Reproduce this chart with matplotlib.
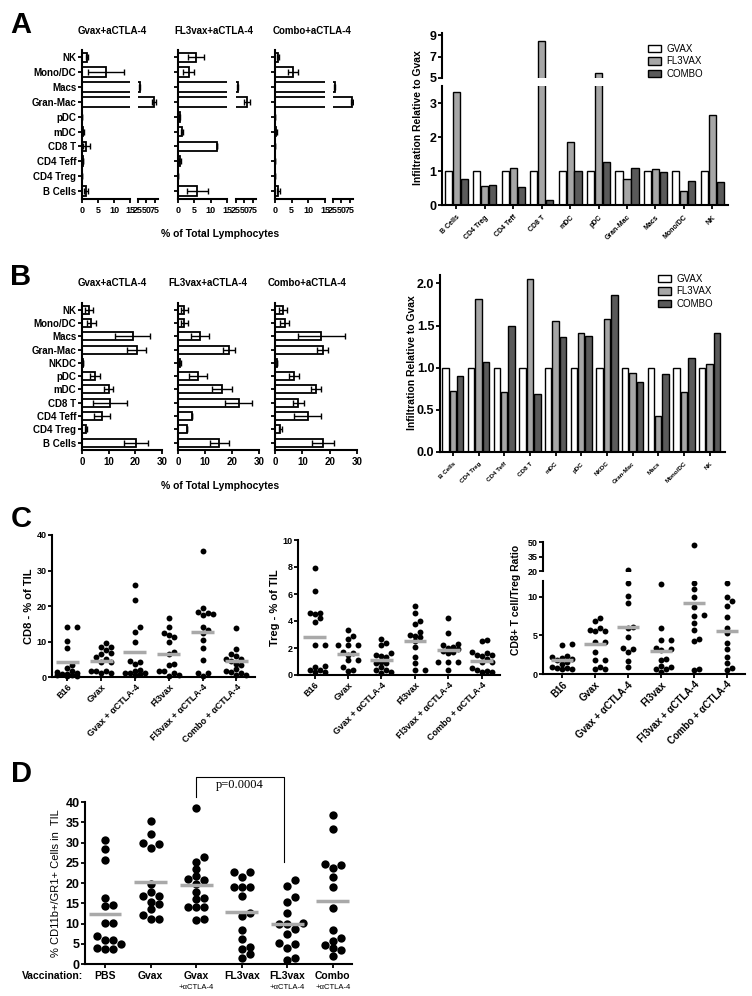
import numpy as np
import matplotlib.pyplot as plt
from matplotlib.patches import Patch

plt.rcParams['font.family'] = ['Liberation Sans', 'DejaVu Sans']
plt.rcParams['font.weight'] = 'bold'
plt.rcParams['axes.linewidth'] = 1.5
plt.rcParams['xtick.major.width'] = 1.3
plt.rcParams['ytick.major.width'] = 1.3
plt.rcParams['xtick.major.size'] = 3
plt.rcParams['ytick.major.size'] = 3

W, H = 752, 996

# ---------------- data ----------------
# panel A, left: % of total lymphocytes (mean, sem)
cats_a = ["NK", "Mono/DC", "Macs", "Gran-Mac", "pDC", "mDC", "CD8 T", "CD4 Teff", "CD4 Treg", "B Cells"]
gvax_a = [1.6, 7.5, 30, 73, 0.1, 0.4, 1.3, 0.3, 0.1, 1.2]
gvax_a_err = [0.3, 5.5, 1.5, 5, 0, 0.2, 1.1, 0.1, 0, 0.6]
fl3_a = [5.5, 3.3, 30, 58, 0.5, 1.2, 11.9, 0.5, 0.1, 5.9]
fl3_a_err = [2.5, 1.7, 2, 8, 0.2, 0.3, 0, 0.3, 0, 3.2]
combo_a = [1.0, 5.4, 30, 82, 0.1, 0.4, 0.1, 0.1, 0.1, 1.0]
combo_a_err = [0.3, 1.6, 1.5, 2, 0, 0.2, 0, 0, 0, 0.5]

# panel A, right: infiltration relative to gvax
cats_ar = ["B Cells", "CD4 Treg", "CD4 Teff", "CD8 T", "mDC", "pDC", "Gran-Mac", "Macs", "Mono/DC", "NK"]
ar_gvax = [1, 1, 1, 1, 1, 1, 1, 1, 1, 1]
ar_fl3 = [3.32, 0.55, 1.1, 8.45, 1.85, 5.45, 0.75, 1.07, 0.4, 2.65]
ar_combo = [0.75, 0.58, 0.53, 0.15, 1.0, 1.25, 1.1, 0.98, 0.72, 0.68]

# panel B, left
cats_b = ["NK", "Mono/DC", "Macs", "Gran-Mac", "NKDC", "pDC", "mDC", "CD8 T", "CD4 Teff", "CD4 Treg", "B Cells"]
gvax_b = [2.5, 3.5, 19, 20.5, 0.3, 4.8, 10, 10.5, 7.5, 1.5, 20.3]
gvax_b_err = [1.5, 1.8, 6.5, 3.5, 0.1, 1.8, 1.8, 6.5, 3, 0.5, 4.4]
fl3_b = [2.4, 2.4, 8.2, 18.8, 0.7, 7.5, 16.3, 22.5, 5, 3.2, 15.3]
fl3_b_err = [1.3, 1.3, 3.4, 2.2, 0.3, 3.3, 3.7, 5, 0, 0, 3.5]
combo_b = [3, 3.5, 17, 17.5, 0.8, 7, 15, 8.5, 12, 2, 17.5]
combo_b_err = [1.5, 1.5, 8.5, 2, 0, 1.7, 2, 2, 5, 0.5, 4]

# panel B, right
cats_br = ["B Cells", "CD4 Treg", "CD4 Teff", "CD8 T", "mDC", "pDC", "NKDC", "Gran-Mac", "Macs", "Mono/DC", "NK"]
br_gvax = [1, 1, 1, 1, 1, 1, 1, 1, 1, 1, 1]
br_fl3 = [0.72, 1.81, 0.71, 2.05, 1.55, 1.41, 1.58, 0.94, 0.43, 0.71, 1.04]
br_combo = [0.9, 1.07, 1.5, 0.69, 1.37, 1.38, 1.86, 0.83, 0.92, 1.11, 1.41]

# panel C
groups_c = ["B16", "Gvax", "Gvax + \u03b1CTLA-4", "Fl3vax", "Fl3vax + \u03b1CTLA-4", "Combo + \u03b1CTLA-4"]
cd8 = [
    [14.2, 14.2, 10.2, 8.3, 3.5, 2.5, 1.8, 1.2, 0.8, 0.6, 0.5, 0.4, 0.8, 1.5, 0.3],
    [9.7, 8.5, 8.5, 6.7, 7.6, 6.5, 5.7, 5.0, 4.3, 4.3, 1.8, 1.8, 1.8, 1.0, 1.0],
    [25.8, 21.8, 14.2, 12.8, 9.8, 4.6, 4.3, 3.8, 2.0, 1.6, 1.0, 1.0, 0.8, 0.5, 1.2],
    [16.5, 14.2, 12.3, 11.9, 11.3, 9.9, 7.1, 6.6, 3.8, 3.5, 1.6, 1.6, 1.1, 0.5, 0.3],
    [35.5, 19.3, 18.3, 18.1, 17.8, 17.6, 14.0, 13.2, 12.3, 10.5, 8.2, 4.8, 1.0, 0.3, 1.2],
    [13.7, 7.8, 6.4, 5.9, 5.2, 5.2, 4.6, 3.8, 3.5, 2.3, 1.8, 1.5, 1.0, 0.6, 0.6],
]
cd8_mean = [4.3, 4.5, 7.1, 6.6, 12.8, 4.5]
treg = [
    [7.9, 6.2, 4.6, 4.6, 4.5, 4.2, 3.95, 2.2, 2.2, 0.7, 0.6, 0.4, 0.35, 0.25, 0.2],
    [3.3, 2.9, 2.7, 2.2, 2.2, 2.2, 1.7, 1.6, 1.5, 1.1, 1.1, 0.6, 0.4, 0.3],
    [2.7, 2.4, 2.2, 1.6, 1.5, 1.4, 1.3, 1.0, 0.9, 0.9, 0.6, 0.4, 0.4, 0.2, 0.15],
    [5.1, 4.6, 4.0, 3.8, 3.2, 3.0, 2.9, 2.8, 2.5, 2.1, 1.3, 0.9, 0.4, 0.35],
    [4.2, 3.1, 2.3, 2.2, 2.1, 2.0, 1.9, 1.8, 1.7, 1.6, 1.0, 1.0, 1.0, 0.4],
    [2.6, 2.5, 1.7, 1.6, 1.5, 1.5, 1.4, 1.2, 1.0, 1.0, 0.5, 0.4, 0.3, 0.2, 0.2],
]
treg_mean = [2.85, 1.55, 1.1, 2.5, 1.85, 1.05]
ratio = [
    [3.9, 3.8, 2.3, 2.2, 2.1, 1.9, 1.8, 1.6, 1.3, 0.9, 0.8, 0.7, 0.8, 0.6],
    [7.2, 6.9, 5.9, 5.7, 5.6, 5.5, 4.1, 4.1, 2.9, 1.8, 1.8, 0.95, 0.7, 0.6],
    [21.5, 11.8, 10.1, 9.2, 6.1, 5.9, 4.8, 3.3, 3.2, 2.9, 1.7, 0.9],
    [11.6, 5.9, 4.4, 4.4, 3.3, 3.2, 3.1, 2.0, 1.8, 1.0, 0.9, 0.7, 0.6, 0.3],
    [47, 11.7, 11.0, 10.0, 8.6, 7.6, 7.5, 6.6, 5.7, 4.5, 4.3, 0.7, 0.5],
    [11.8, 10.0, 9.4, 8.8, 7.3, 6.0, 5.3, 4.0, 3.2, 2.2, 1.4, 0.8, 0.5],
]
ratio_mean = [1.75, 3.85, 6.1, 3.0, 9.2, 5.5]

# panel D
groups_d = ["PBS", "Gvax", "Gvax", "FL3vax", "FL3vax", "Combo"]
groups_d2 = ["", "", "+\u03b1CTLA-4", "", "+\u03b1CTLA-4", "+\u03b1CTLA-4"]
mdsc = [
    [30.6, 28.3, 25.8, 16.4, 14.6, 14.2, 10.2, 10.1, 7.0, 5.9, 5.9, 5.0, 3.9, 3.7, 3.7],
    [35.2, 32.0, 30.0, 29.7, 28.7, 19.7, 17.8, 16.9, 16.9, 15.3, 14.8, 13.5, 12.2, 11.1, 11.1],
    [38.5, 26.3, 25.2, 23.5, 21.8, 21.0, 20.7, 19.8, 17.9, 16.2, 16.0, 14.0, 14.0, 14.0, 11.2, 10.9],
    [22.8, 22.8, 21.6, 19.1, 19.0, 18.9, 16.9, 12.5, 11.9, 8.5, 6.2, 4.3, 3.6, 2.5, 1.6],
    [20.8, 19.3, 16.5, 15.2, 12.5, 10.2, 10.0, 9.8, 8.6, 7.5, 5.2, 5.0, 3.9, 1.4, 1.0],
    [36.8, 33.3, 24.6, 24.5, 23.6, 21.6, 19.0, 13.8, 8.5, 6.4, 5.8, 4.7, 3.9, 3.5, 2.0],
]
mdsc_mean = [12.3, 20.2, 19.6, 12.8, 9.9, 15.5]

WHITE, LIGHT, DARK, MEANC = "#ffffff", "#a6a6a6", "#5a5a5a", "#a9a9a9"


def box(x0, y0, x1, y1):
    return [x0 / W, 1 - y1 / H, (x1 - x0) / W, (y1 - y0) / H]


def clean(ax):
    ax.spines['top'].set_visible(False)
    ax.spines['right'].set_visible(False)


def swarm_x(ypix, d, step, kmax=2):
    # small beeswarm: shift points sideways (at most kmax steps) to limit overlap
    offs = np.zeros(len(ypix))
    done = []
    ks = [0]
    for k in range(1, kmax + 1):
        ks += [k, -k]
    for i in np.argsort(ypix):
        best, best_gap = 0.0, -1
        for k in ks:
            x = k * step
            gap = min([np.hypot(x - ox, ypix[i] - oy) for ox, oy in done] + [1e9])
            if gap >= 0.85 * d:
                best = x
                break
            if gap > best_gap:
                best, best_gap = x, gap
        offs[i] = best
        done.append((best, ypix[i]))
    return offs


fig = plt.figure(figsize=(W / 100, H / 100), dpi=100)

for letter, x, y in [("A", 10, 33), ("B", 10, 285), ("C", 11, 527), ("D", 11, 782)]:
    fig.text(x / W, 1 - y / H, letter, fontsize=21, fontweight='bold', va='baseline')

# ---------------- panel A left ----------------
sets_a = [(gvax_a, gvax_a_err, "Gvax+aCTLA-4"), (fl3_a, fl3_a_err, "FL3vax+aCTLA-4"),
          (combo_a, combo_a_err, "Combo+aCTLA-4")]
pos_a = [(82, 130, 138, 158, 112), (178, 227, 236, 256, 214), (275, 325, 333, 353, 312)]
ya = np.arange(len(cats_a))
for gi, ((vals, errs, title), (x0, x1, x2, x3, tx)) in enumerate(zip(sets_a, pos_a)):
    for j, (xa, xb, lim, ticks) in enumerate([(x0, x1, (0, 15), [0, 5, 10, 15]),
                                              (x2, x3, (25, 85), [25, 50, 75])]):
        ax = fig.add_axes(box(xa, 50, xb, 199))
        ax.barh(ya, vals, height=0.65, color='white', edgecolor='black', linewidth=1.3)
        ax.errorbar(vals, ya, xerr=errs, fmt='none', ecolor='black', elinewidth=1, capsize=2)
        ax.set_xlim(*lim)
        ax.set_ylim(len(cats_a) - 0.45, -0.5)
        ax.set_xticks(ticks)
        ax.tick_params(axis='x', labelsize=6.5, pad=2)
        clean(ax)
        if j == 0:
            ax.set_yticks(ya)
            ax.set_yticklabels(cats_a if gi == 0 else [], fontsize=7)
            ax.tick_params(axis='y', pad=1)
        else:
            ax.spines['left'].set_visible(False)
            ax.set_yticks([])
    fig.text(tx / W, 1 - 31 / H, title, fontsize=7, fontweight='bold', ha='center', va='center')
fig.text(220 / W, 1 - 234 / H, "% of Total Lymphocytes", fontsize=7.5, fontweight='bold',
         ha='center', va='center')

# ---------------- panel A right ----------------
xr = np.arange(len(cats_ar))
ax_up = fig.add_axes(box(442, 33, 728, 78))
ax_lo = fig.add_axes(box(442, 86, 728, 205))
for ax in (ax_up, ax_lo):
    for vals, col, off in [(ar_gvax, WHITE, -0.28), (ar_fl3, LIGHT, 0), (ar_combo, DARK, 0.28)]:
        ax.bar(xr + off, vals, width=0.25, color=col, edgecolor='black', linewidth=1)
    ax.set_xlim(-0.5, len(cats_ar) - 0.45)
    clean(ax)
    ax.tick_params(axis='y', labelsize=9, pad=1)
ax_up.set_ylim(5, 9.2)
ax_up.set_yticks([5, 7, 9])
ax_up.spines['bottom'].set_visible(False)
ax_up.set_xticks([])
ax_lo.set_ylim(0, 3.5)
ax_lo.set_yticks([0, 1, 2, 3])
ax_lo.set_xticks(xr)
ax_lo.set_xticklabels(cats_ar, rotation=45, ha='right', rotation_mode='anchor', fontsize=5)
fig.text(418 / W, 1 - 118 / H, "Infiltration Relative to Gvax", rotation=90, fontsize=7.5,
         fontweight='bold', ha='center', va='center')
leg_h = [Patch(facecolor=c, edgecolor='black', linewidth=1) for c in (WHITE, LIGHT, DARK)]
fig.legend(leg_h, ["GVAX", "FL3VAX", "COMBO"], loc='upper left', bbox_to_anchor=(648 / W, 1 - 44 / H),
           frameon=False, prop={'size': 7, 'weight': 'normal'}, handlelength=1.3, handleheight=0.8,
           labelspacing=0.25, handletextpad=0.6, borderaxespad=0, borderpad=0)

# ---------------- panel B left ----------------
sets_b = [(gvax_b, gvax_b_err, "Gvax+aCTLA-4"), (fl3_b, fl3_b_err, "FL3vax+aCTLA-4"),
          (combo_b, combo_b_err, "Combo+aCTLA-4")]
pos_b = [(82, 162, 112), (178, 259, 208), (275, 357, 307)]
yb = np.arange(len(cats_b))
for gi, ((vals, errs, title), (x0, x1, tx)) in enumerate(zip(sets_b, pos_b)):
    ax = fig.add_axes(box(x0, 303, x1, 450))
    ax.barh(yb, vals, height=0.6, color='white', edgecolor='black', linewidth=1.3)
    ax.errorbar(vals, yb, xerr=errs, fmt='none', ecolor='black', elinewidth=1, capsize=2)
    ax.set_xlim(0, 30)
    ax.set_ylim(len(cats_b) - 0.45, -0.5)
    ax.set_xticks([0, 10, 20, 30])
    ax.set_yticks(yb)
    ax.set_yticklabels(cats_b if gi == 0 else [], fontsize=7)
    ax.tick_params(axis='x', labelsize=7, pad=2)
    ax.tick_params(axis='y', pad=1)
    clean(ax)
    fig.text(tx / W, 1 - 283 / H, title, fontsize=7, fontweight='bold', ha='center', va='center')
fig.text(220 / W, 1 - 486 / H, "% of Total Lymphocytes", fontsize=7.5, fontweight='bold',
         ha='center', va='center')

# ---------------- panel B right ----------------
xb2 = np.arange(len(cats_br))
ax = fig.add_axes(box(440, 275, 725, 452))
for vals, col, off in [(br_gvax, WHITE, -0.29), (br_fl3, LIGHT, 0), (br_combo, DARK, 0.29)]:
    ax.bar(xb2 + off, vals, width=0.25, color=col, edgecolor='black', linewidth=1)
ax.set_xlim(-0.5, len(cats_br) - 0.4)
ax.set_ylim(0, 2.1)
ax.set_yticks([0, 0.5, 1.0, 1.5, 2.0])
ax.set_yticklabels(["0.0", "0.5", "1.0", "1.5", "2.0"])
ax.tick_params(axis='y', labelsize=9, pad=1)
ax.set_xticks(xb2)
ax.set_xticklabels(cats_br, rotation=45, ha='right', rotation_mode='anchor', fontsize=4.5)
clean(ax)
fig.text(412 / W, 1 - 363 / H, "Infiltration Relative to Gvax", rotation=90, fontsize=7.5,
         fontweight='bold', ha='center', va='center')
fig.legend(leg_h, ["GVAX", "FL3VAX", "COMBO"], loc='upper left', bbox_to_anchor=(658 / W, 1 - 274 / H),
           frameon=False, prop={'size': 7, 'weight': 'normal'}, handlelength=1.3, handleheight=0.8,
           labelspacing=0.25, handletextpad=0.6, borderaxespad=0, borderpad=0)


# ---------------- panel C ----------------
def dot_plot(ax, data, means, ypx, xpx, d, s, half, step):
    for i, vals in enumerate(data):
        v = np.array(vals, dtype=float)
        offs = swarm_x(ypx(v), d, step) / xpx
        ax.scatter(i + offs, v, s=s, color='black', zorder=3, clip_on=False, linewidths=0)
        ax.hlines(means[i], i - half, i + half, color=MEANC, lw=2.5, zorder=4)


c_kw = dict(fontsize=7)
ax = fig.add_axes(box(52, 535, 255, 677))
dot_plot(ax, cd8, cd8_mean, lambda v: v * 3.55, 34, 6, 18, 0.34, 5)
ax.set_ylim(0, 40)
ax.set_yticks([0, 10, 20, 30, 40])
ax.set_xlim(-0.45, 5.55)
ax.set_xticks(range(6))
ax.set_xticklabels(groups_c, rotation=45, ha='right', rotation_mode='anchor', **c_kw)
ax.tick_params(labelsize=6.5, pad=1)
ax.set_ylabel("CD8 - % of TIL", fontsize=8, fontweight='bold', labelpad=2)
clean(ax)

ax = fig.add_axes(box(298, 540, 500, 675))
dot_plot(ax, treg, treg_mean, lambda v: v * 13.5, 33.4, 6, 18, 0.34, 5)
ax.set_ylim(0, 10)
ax.set_yticks([0, 2, 4, 6, 8, 10])
ax.set_xlim(-0.5, 5.55)
ax.set_xticks(range(6))
ax.set_xticklabels(groups_c, rotation=45, ha='right', rotation_mode='anchor', **c_kw)
ax.tick_params(labelsize=6.5, pad=1)
ax.set_ylabel("Treg - % of TIL", fontsize=8, fontweight='bold', labelpad=2)
clean(ax)

r_up = fig.add_axes(box(543, 542, 745, 571))
r_lo = fig.add_axes(box(543, 581, 745, 674))


def ratio_px(v):
    return np.where(v <= 12, v * 7.7, 102 + (v - 20) * 0.97)


for ax in (r_up, r_lo):
    dot_plot(ax, ratio, ratio_mean, ratio_px, 33, 6, 18, 0.34, 5)
    ax.set_xlim(-0.58, 5.55)
    ax.tick_params(labelsize=6.5, pad=1)
    clean(ax)
    for coll in ax.collections:
        coll.set_clip_on(True)
r_up.set_ylim(20, 50)
r_up.set_yticks([20, 35, 50])
r_up.spines['bottom'].set_visible(False)
r_up.set_xticks([])
r_lo.set_ylim(0, 12)
r_lo.set_yticks([0, 5, 10])
r_lo.set_xticks(range(6))
r_lo.set_xticklabels(groups_c, rotation=45, ha='right', rotation_mode='anchor', **c_kw)
fig.text(516 / W, 1 - 600 / H, "CD8+ T cell/Treg Ratio", rotation=90, fontsize=7.5,
         fontweight='bold', ha='center', va='center')

# ---------------- panel D ----------------
ax = fig.add_axes(box(85, 802, 352, 964))
dot_plot(ax, mdsc, mdsc_mean, lambda v: v * 4.05, 45.5, 8, 36, 0.36, 8)
ax.set_ylim(0, 40)
ax.set_yticks(range(0, 41, 5))
ax.set_xlim(-0.44, 5.42)
ax.set_xticks(range(6))
ax.set_xticklabels(groups_d, fontsize=7.5)
ax.tick_params(axis='y', labelsize=9, pad=1)
ax.tick_params(axis='x', pad=2)
for i, t in enumerate(groups_d2):
    ax.text(i, -0.145, t, transform=ax.get_xaxis_transform(), fontsize=5.5, fontweight='normal',
            ha='center', va='center')
ax.set_ylabel("% CD11b+/GR1+ Cells in  TIL", fontsize=8, fontweight='normal', labelpad=3)
clean(ax)
fig.text(83 / W, 1 - 976 / H, "Vaccination:", fontsize=7.5, fontweight='bold', ha='right', va='center')
# significance bracket between Gvax+aCTLA-4 and FL3vax+aCTLA-4
ax.plot([2, 2, 3.93, 3.93], [41.2, 46.2, 46.2, 25.2], color='black', lw=0.8, clip_on=False)
ax.text(2.95, 44.2, "p=0.0004", fontsize=9, family='Liberation Serif', fontweight='normal',
        ha='center', va='center')

fig.savefig("out.png", dpi=100)
